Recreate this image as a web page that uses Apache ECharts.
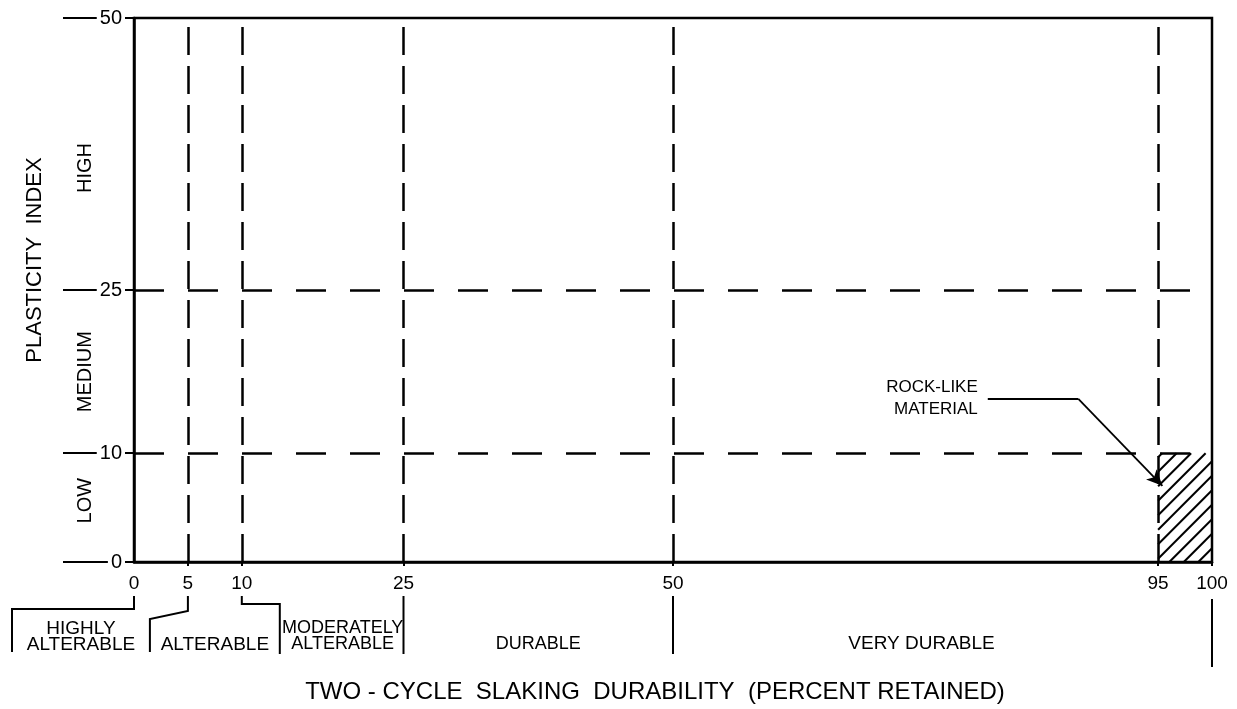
<!DOCTYPE html>
<html><head><meta charset="utf-8">
<script src="https://cdn.jsdelivr.net/npm/echarts@6/dist/echarts.min.js"></script>
<style>html,body{margin:0;padding:0;background:#fff}#c{width:1237px;height:709px}</style>
</head><body><div id="c"></div>
<script>
// ---- data ----
const xTicks = [0, 5, 10, 25, 50, 95, 100];
const yTicks = [0, 10, 25, 50];
const xDividers = [5, 10, 25, 50, 95];
const yDividers = [10, 25];
const plasticityBounds = [[0, 10], [10, 25], [25, 50]];
const plasticityNames = ['LOW', 'MEDIUM', 'HIGH'];
const durabilityBounds = [[0, 5], [5, 10], [10, 25], [25, 50], [50, 100]];
const durabilityNames = ['HIGHLY\nALTERABLE', 'ALTERABLE', 'MODERATELY\nALTERABLE', 'DURABLE', 'VERY DURABLE'];
const rockLikeRegion = [[95, 100, 0, 10]];
const rockLikeLeader = [[79.2, 15], [87.6, 15], [95.4, 7]];
const rockLikeText = 'ROCK-LIKE\nMATERIAL';
const xTitle = 'TWO - CYCLE  SLAKING  DURABILITY  (PERCENT RETAINED)';
const yTitle = 'PLASTICITY  INDEX';

// ---- styles ----
const FONT = '"Liberation Sans", Arial, sans-serif';
const INK = '#000';
// bracket shapes below the x axis (pixel offsets from the boundary value / axis line)
const bracketShape = {
  0:   [[0, 34], [0, 47], [-122, 47], [-122, 90]],
  5:   [[0, 34], [0, 49], [-38, 57], [-38, 90]],
  10:  [[0, 34], [0, 42], [38, 42], [38, 92]],
  25:  [[0, 34], [0, 92]],
  50:  [[0, 34], [0, 92]],
  100: [[0, 37], [0, 105]]
};
const durabilityLabelStyle = [
  {dy: 75, size: 19, nudge: 0},
  {dy: 83, size: 19, nudge: 0},
  {dy: 74, size: 18, nudge: 1},
  {dy: 82, size: 18, nudge: 0},
  {dy: 82, size: 19, nudge: -21}
];
const plasticityNudge = [-7, 0, 14];

function bracket(value, api, base) {
  const x = api.coord([value, 0])[0];
  const pts = bracketShape[value].map(p => [x + p[0], base + p[1]]);
  return {el: {type: 'polyline', shape: {points: pts}, style: {stroke: INK, lineWidth: 2, fill: null}},
          bottomX: pts[pts.length - 1][0]};
}

function durabilityItem(params, api) {
  const from = api.value(0), to = api.value(1);
  const base = api.coord([0, 0])[1];
  const a = bracket(from, api, base);
  const children = [a.el];
  const b = bracket(to, api, base);
  if (params.dataIndex === durabilityBounds.length - 1) children.push(b.el);
  const st = durabilityLabelStyle[params.dataIndex];
  children.push({
    type: 'text', x: (a.bottomX + b.bottomX) / 2 + st.nudge, y: base + st.dy,
    style: {text: durabilityNames[params.dataIndex], fill: INK, font: st.size + 'px ' + FONT,
            align: 'center', verticalAlign: 'middle', lineHeight: 16}
  });
  return {type: 'group', children};
}

function plasticityItem(params, api) {
  const y0 = api.coord([0, api.value(0)])[1];
  const y1 = api.coord([0, api.value(1)])[1];
  const x = api.coord([0, 0])[0] - 49;
  return {
    type: 'text', x: x, y: (y0 + y1) / 2 + plasticityNudge[params.dataIndex], rotation: Math.PI / 2,
    style: {text: plasticityNames[params.dataIndex], fill: INK, font: '20px ' + FONT,
            align: 'center', verticalAlign: 'middle'}
  };
}

function hatchItem(params, api) {
  const p0 = api.coord([api.value(0), api.value(2)]);
  const p1 = api.coord([api.value(1), api.value(3)]);
  const x0 = p0[0], yb = p0[1], x1 = p1[0], yt = p1[1];
  const h = yb - yt, step = 14.5;
  const children = [];
  for (let c = x0 - h + 4; c < x1; c += step) {
    const t0 = Math.max(0, x0 - c), t1 = Math.min(h, x1 - c);
    if (t1 > t0 + 1) children.push({type: 'line', shape: {x1: c + t0, y1: yb - t0, x2: c + t1, y2: yb - t1},
                                    style: {stroke: INK, lineWidth: 2}});
  }
  return {type: 'group', children};
}

const chart = echarts.init(document.getElementById('c'), null, {renderer: 'canvas'});
chart.setOption({
  animation: false,
  backgroundColor: '#fff',
  textStyle: {fontFamily: FONT, color: INK},
  grid: {left: 134, right: 25, top: 18, bottom: 146, show: true, borderColor: INK, borderWidth: 2.5, backgroundColor: 'transparent'},
  xAxis: {
    type: 'value', min: 0, max: 100, splitLine: {show: false},
    axisLine: {show: true, lineStyle: {color: INK, width: 2.5}},
    axisTick: {show: true, customValues: [5, 10, 25, 50, 95, 100], length: 4, lineStyle: {color: INK, width: 2}},
    axisLabel: {customValues: xTicks, margin: 12, fontSize: 19, color: INK, fontFamily: FONT},
    name: xTitle, nameLocation: 'middle', nameGap: 118,
    nameTextStyle: {fontSize: 24, color: INK, fontFamily: FONT, padding: [0, 36, 0, 0]}
  },
  yAxis: {
    type: 'value', min: 0, max: 50, splitLine: {show: false},
    axisLine: {show: true, lineStyle: {color: INK, width: 2.5}},
    axisTick: {show: true, customValues: yTicks, length: 71, lineStyle: {color: INK, width: 2}},
    axisLabel: {customValues: yTicks, margin: 9, fontSize: 20, color: INK, fontFamily: FONT,
                backgroundColor: '#fff', padding: [0, 3]},
    name: yTitle, nameLocation: 'middle', nameGap: 88, nameRotate: 90,
    nameTextStyle: {fontSize: 22, color: INK, fontFamily: FONT, padding: [0, 0, 0, 60]}
  },
  series: [
    {
      type: 'line', name: 'dividers', data: [], silent: true,
      markLine: {
        silent: true, symbol: ['none', 'none'], label: {show: false}, animation: false,
        data: xDividers.map(v => ({xAxis: v, lineStyle: {color: INK, width: 2.5, type: [28, 11]}}))
          .concat(yDividers.map(v => ({yAxis: v, lineStyle: {color: INK, width: 2.5, type: [30, 24]}})))
      }
    },
    {
      type: 'custom', name: 'rock-like', data: rockLikeRegion, encode: {x: [0, 1], y: [2, 3]},
      renderItem: hatchItem, silent: true, z: 3
    },
    {
      type: 'line', name: 'leader', data: [], silent: true,
      markLine: {
        silent: true, animation: false, symbol: ['none', 'none'],
        lineStyle: {color: INK, width: 1.8, type: 'solid'},
        data: [
          [{coord: rockLikeLeader[0], symbol: 'none',
            label: {show: true, position: 'start', distance: 10, formatter: rockLikeText, color: INK,
                    fontSize: 17, fontFamily: FONT, lineHeight: 22, align: 'right'}},
           {coord: rockLikeLeader[1], symbol: 'none'}],
          [{coord: rockLikeLeader[1], symbol: 'none', label: {show: false}},
           {coord: rockLikeLeader[2], symbol: 'arrow', symbolSize: [11, 16]}]
        ]
      }
    },
    {
      type: 'custom', name: 'plasticity', data: plasticityBounds.map(b => [b[0], b[1], 0]),
      encode: {y: [0, 1], x: 2}, renderItem: plasticityItem, silent: true, clip: false
    },
    {
      type: 'custom', name: 'durability', data: durabilityBounds.map(b => [b[0], b[1], 0]),
      encode: {x: [0, 1], y: 2}, renderItem: durabilityItem, silent: true, clip: false
    }
  ]
});
</script>
</body></html>
